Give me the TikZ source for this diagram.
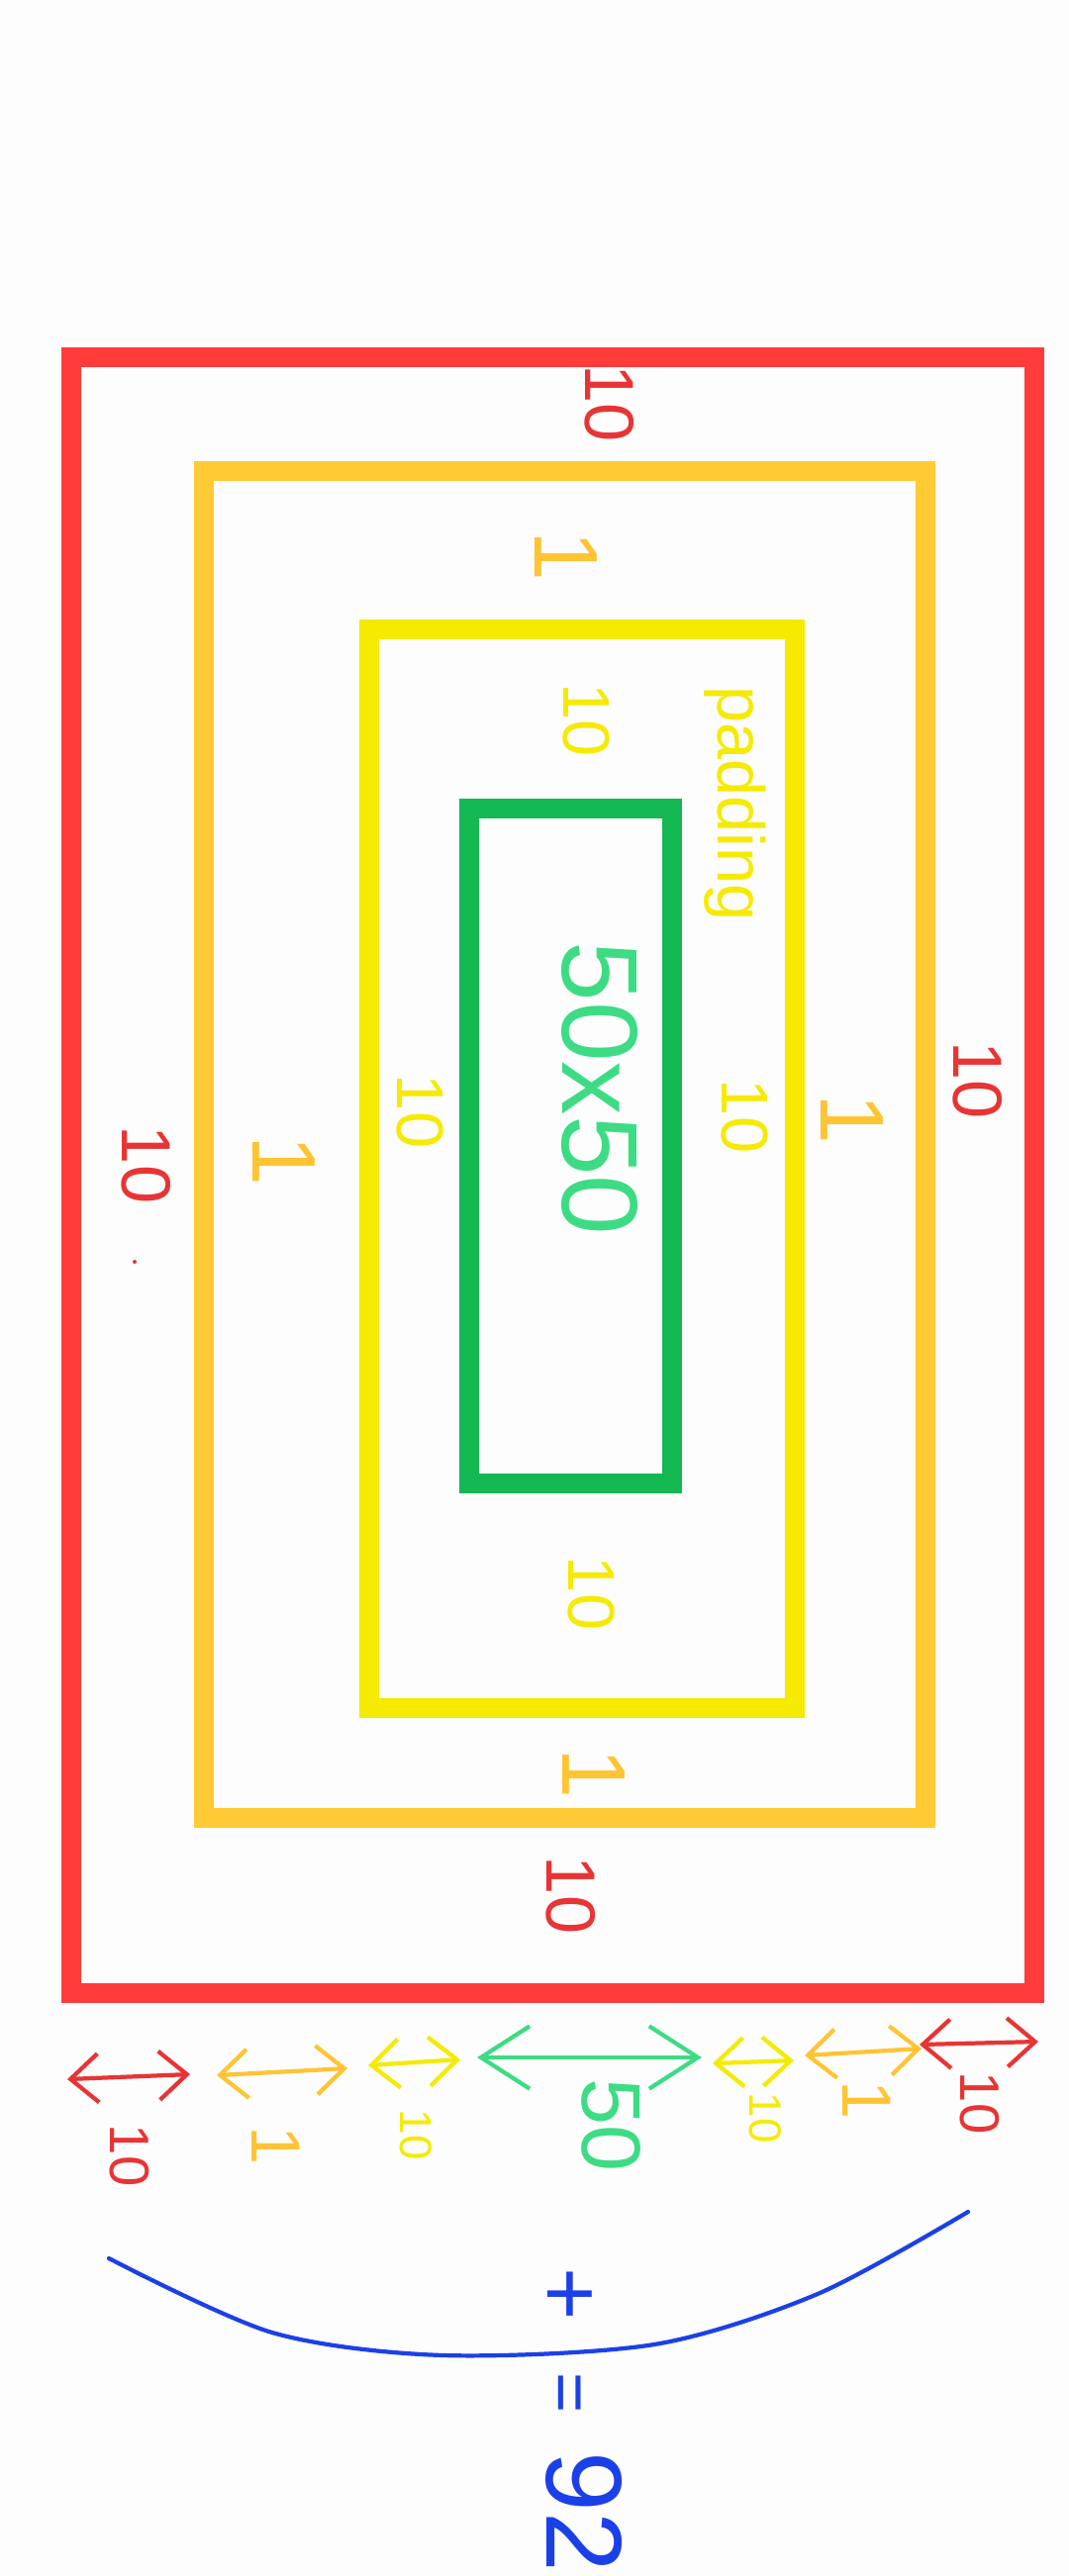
\documentclass[tikz,border=0pt]{standalone}
\usepackage{fontspec}
\setmainfont{Liberation Sans}
\usepackage{tikz}
\usetikzlibrary{arrows.meta,positioning}
\definecolor{boxred}{RGB}{255,59,59}
\definecolor{boxorange}{RGB}{255,202,51}
\definecolor{boxyellow}{RGB}{245,234,0}
\definecolor{boxgreen}{RGB}{20,184,82}
\definecolor{textred}{RGB}{232,52,52}
\definecolor{textorange}{RGB}{255,196,52}
\definecolor{textgreen}{RGB}{61,220,132}
\definecolor{braceblue}{RGB}{28,64,232}
\definecolor{paper}{RGB}{253,253,253}
\tikzset{
	boxline/.style={line width=0.2cm},
	sidelabel/.style={rotate=-90, inner sep=0pt},
	redtag/.style={sidelabel, text=textred, font=\fontsize{20}{20}\selectfont},
	orangetag/.style={sidelabel, text=textorange, font=\fontsize{26}{26}\selectfont},
	yellowtag/.style={sidelabel, text=boxyellow, font=\fontsize{19}{19}\selectfont},
	greentag/.style={sidelabel, text=textgreen, font=\fontsize{31}{31}\selectfont},
	bluetag/.style={sidelabel, text=braceblue, font=\fontsize{26}{26}\selectfont},
	dimtag/.style={sidelabel, font=\fontsize{#1}{#1}\selectfont},
	dimarrow/.style={<->, line width=1.2pt, line cap=round,
		>={Straight Barb[length=8pt,width=14pt]}}
}
\begin{document}
\begin{tikzpicture}[x=0.01cm,y=-0.01cm]
	\fill[paper] (0,0) rectangle (1080,2603);
	\useasboundingbox (0,0) rectangle (1080,2603);
	% nested frames
	\draw[boxline, boxred]    (72,361)  rectangle (1045,2014);
	\draw[boxline, boxorange] (206,476) rectangle (935,1837);
	\draw[boxline, boxyellow] (373,636) rectangle (803,1726);
	\draw[boxline, boxgreen]  (474,817) rectangle (679,1499);
	\fill[textred] (136,1275) circle (2);
	% sizes inside the frames
	\node[redtag] (redtop)    at (616,408)  {10};
	\node[redtag] (redleft)   at (148,1177) {10};
	\node[redtag] (redright)  at (988,1092) {10};
	\node[redtag] (redbottom) at (577,1915) {10};
	\node[orangetag] (orangetop)    at (572,562)  {1};
	\node[orangetag] (orangeleft)   at (287,1173) {1};
	\node[orangetag] (orangeright)  at (861,1131) {1};
	\node[orangetag] (orangebottom) at (600,1792) {1};
	\node[yellowtag] (yellowtop)    at (592,728)  {10};
	\node[yellowtag] (yellowleft)   at (424,1123) {10};
	\node[yellowtag] (yellowright)  at (752,1128) {10};
	\node[yellowtag] (yellowbottom) at (597,1610) {10};
	\node[yellowtag] (padding)      at (743,812)  {padding};
	\node[greentag]  (content)      at (606,1100) {50x50};
	% widths under the frames
	\coordinate (ra1) at (68,2101);  \coordinate (ra2) at (192,2096);
	\coordinate (oa1) at (219,2097); \coordinate (oa2) at (351,2090);
	\coordinate (ya1) at (372,2087); \coordinate (ya2) at (465,2081);
	\coordinate (ga1) at (482,2079); \coordinate (ga2) at (709,2079);
	\coordinate (yb1) at (720,2085); \coordinate (yb2) at (802,2082);
	\coordinate (ob1) at (813,2077); \coordinate (ob2) at (931,2070);
	\coordinate (rb1) at (929,2066); \coordinate (rb2) at (1049,2063);
	\draw[dimarrow, textred]    (ra1) -- (ra2);
	\draw[dimarrow, textorange] (oa1) -- (oa2);
	\draw[dimarrow, boxyellow]  (ya1) -- (ya2);
	\draw[dimarrow, textgreen, >={Straight Barb[length=14pt,width=18pt]}] (ga1) -- (ga2);
	\draw[dimarrow, boxyellow]  (yb1) -- (yb2);
	\draw[dimarrow, textorange] (ob1) -- (ob2);
	\draw[dimarrow, textred]    (rb1) -- (rb2);
	\node[dimtag=16, text=textred]    (wredleft)     at (131,2178) {10};
	\node[dimtag=20, text=textorange] (worangeleft)  at (279,2168) {1};
	\node[dimtag=13, text=boxyellow]  (wyellowleft)  at (420,2157) {10};
	\node[dimtag=24, text=textgreen]  (wcontent)     at (618,2147) {50};
	\node[dimtag=13, text=boxyellow]  (wyellowright) at (773,2140) {10};
	\node[dimtag=20, text=textorange] (worangeright) at (876,2122) {1};
	\node[dimtag=16, text=textred]    (wredright)    at (990,2125) {10};
	% sum
	\draw[braceblue, line width=1.2pt, line cap=round] plot[smooth] coordinates
		{(110,2282) (275,2357) (448,2380) (661,2369) (826,2318) (978,2235)};
	\node[bluetag] (plus) at (572,2318) {+};
	\node[bluetag, font=\fontsize{20}{20}\selectfont] (equals) at (570,2418) {=};
	\node[bluetag, font=\fontsize{31}{31}\selectfont] (total) at (590,2538) {92};
\end{tikzpicture}
\end{document}
